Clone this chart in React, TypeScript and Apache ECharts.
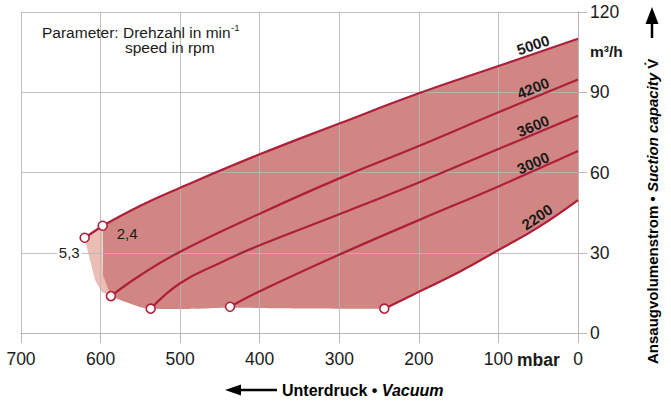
import { useEffect, useRef } from 'react';
import * as echarts from 'echarts';

const FONT = '"Liberation Sans", Arial, Helvetica, sans-serif';
const RED = '#AE1F3A';
const DARK_FILL = '#D18683';
const LIGHT_FILL = '#EBBDB5';
const TEXT = '#1a1a1a';
const GRID = 'rgba(182,182,182,0.85)';
const AXIS = '#b8b8b8';
const SMOOTH = 0.45;

// ---- data (x: Unterdruck / vacuum in mbar, y: suction capacity in m³/h) ----
const speeds = ['5000', '4200', '3600', '3000', '2200'];
const curve5000 = [[597.3, 40.1], [550, 47.6], [500, 54.3], [400, 66.8], [300, 78.3], [200, 89.6], [100, 99.8], [0, 110]];
const curve4200 = [[587, 13.8], [550, 21.6], [500, 30.4], [400, 44.6], [300, 57.8], [200, 69.9], [100, 82.5], [0, 94.8]];
const curve3600 = [[537, 9.1], [500, 18.6], [450, 26.2], [400, 32.8], [300, 44.4], [200, 56.3], [100, 68.8], [0, 81.2]];
const curve3000 = [[437.3, 9.8], [400, 15.6], [300, 29.3], [200, 42.2], [100, 54.8], [0, 68]];
const curve2200 = [[243.4, 9.1], [200, 15.4], [150, 22.7], [100, 31], [50, 39.5], [0, 49.7]];
const curves = [curve5000, curve4200, curve3600, curve3000, curve2200];

const limitSegment = [[620, 35.6], [597.3, 40.1]];
// lower boundary of the operating range (runs on under the 2200 curve and past the left edge)
const bottomEdge = [[200, 9.1], [243.4, 9.1], [340, 9.2], [437.3, 9.4], [490, 9.0], [537, 9.1], [565, 11.2], [587, 13.8], [597.3, 15.2], [612, 15.6]];
const darkLeftEdge = [[587, 13.8], [597, 21.7], [598, 30], [597.3, 40.1]];
const lightLeftEdge = [[587, 13.8], [598.6, 15.4], [607, 19.8], [611.1, 24.8], [615.4, 29.8], [620, 35.6]];

const markerPoints = [[620, 35.6], [597.3, 40.1], [587, 13.8], [537, 9.1], [437.3, 9.8], [243.4, 9.1]];
const markerTexts = ['5,3', '2,4', '', '', '', ''];

// label anchors along the curves (layout, data coordinates) and their slopes
const speedLabelAnchors = [[56.5, 107.7], [56.5, 91.6], [56.5, 77.4], [56.5, 63.6], [51.5, 43.4]];
const speedLabelAngles = [19, 22, 23, 24, 34];

const lightPolygon = [
  ...limitSegment,
  ...[...darkLeftEdge].reverse().slice(1),
  ...lightLeftEdge.slice(1, 5),
];

export default function App() {
  const ref = useRef<HTMLDivElement>(null);
  useEffect(() => {
    const chart = echarts.init(ref.current!, null, { renderer: 'svg' });

    const areaLayer = (data: number[][], fill: string) => ({
      type: 'line',
      data,
      smooth: SMOOTH,
      symbol: 'none',
      z: 1,
      silent: true,
      lineStyle: { width: 0, opacity: 0 },
      areaStyle: { color: fill, opacity: 1 },
    });

    const option: any = {
      animation: false,
      grid: { left: 21, right: 93, top: 12, bottom: 70 },
      xAxis: {
        type: 'value',
        min: 0,
        max: 700,
        interval: 100,
        inverse: true,
        z: 3,
        axisLine: { show: true, onZero: false, lineStyle: { color: AXIS, width: 1 } },
        axisTick: { show: true, length: 10, lineStyle: { color: AXIS } },
        axisLabel: { color: TEXT, fontSize: 17.5, fontFamily: FONT, margin: 17 },
        splitLine: { show: true, lineStyle: { color: GRID, width: 1 } },
      },
      yAxis: {
        type: 'value',
        position: 'right',
        min: 0,
        max: 120,
        interval: 30,
        z: 3,
        axisLine: { show: true, onZero: false, lineStyle: { color: AXIS, width: 1 } },
        axisTick: { show: true, length: 9, lineStyle: { color: AXIS } },
        axisLabel: { color: TEXT, fontSize: 17.5, fontFamily: FONT, margin: 12 },
        splitLine: { show: true, lineStyle: { color: GRID, width: 1 } },
      },
      series: [
        // filled operating range: area under the 5000 curve, cleared below 2200 and the bottom edge
        areaLayer(curve5000, DARK_FILL),
        areaLayer(curve2200, '#ffffff'),
        areaLayer(bottomEdge, '#ffffff'),
        {
          type: 'custom',
          coordinateSystem: 'cartesian2d',
          z: 1,
          silent: true,
          data: [[0, 0]],
          renderItem: (_p: any, api: any) => ({
            type: 'polygon',
            shape: { points: lightPolygon.map((p) => api.coord(p)) },
            style: { fill: LIGHT_FILL, stroke: 'none' },
          }),
        },
        {
          type: 'line',
          data: limitSegment,
          symbol: 'none',
          z: 5,
          silent: true,
          lineStyle: { color: RED, width: 2.2 },
        },
        ...curves.map((c) => ({
          type: 'line',
          data: c,
          smooth: SMOOTH,
          symbol: 'none',
          z: 5,
          silent: true,
          lineStyle: { color: RED, width: 2.2 },
        })),
        {
          type: 'scatter',
          z: 6,
          silent: true,
          symbolSize: 9,
          itemStyle: { color: '#ffffff', borderColor: RED, borderWidth: 1.6, opacity: 1 },
          data: markerPoints.map((p, i) => ({
            value: p,
            label:
              i === 0
                ? {
                    show: true,
                    formatter: markerTexts[i],
                    position: 'inside',
                    align: 'right',
                    verticalAlign: 'middle',
                    offset: [-3, 15],
                    color: TEXT,
                    fontSize: 15,
                    fontFamily: FONT,
                    backgroundColor: '#ffffff',
                    padding: [0, 2],
                  }
                : i === 1
                ? {
                    show: true,
                    formatter: markerTexts[i],
                    position: 'inside',
                    align: 'left',
                    verticalAlign: 'middle',
                    offset: [14, 7.5],
                    color: TEXT,
                    fontSize: 15,
                    fontFamily: FONT,
                  }
                : { show: false },
          })),
        },
        {
          type: 'custom',
          coordinateSystem: 'cartesian2d',
          z: 7,
          silent: true,
          data: speedLabelAnchors,
          renderItem: (params: any, api: any) => {
            const p = api.coord([api.value(0), api.value(1)]);
            return {
              type: 'text',
              x: p[0],
              y: p[1],
              rotation: (speedLabelAngles[params.dataIndex] * Math.PI) / 180,
              style: {
                text: speeds[params.dataIndex],
                x: 0,
                y: 0,
                align: 'center',
                verticalAlign: 'middle',
                fontSize: 15,
                fontWeight: 'bold',
                fontFamily: FONT,
                fill: TEXT,
              },
            };
          },
        },
      ],
      graphic: [
        {
          type: 'text',
          x: 42,
          y: 32,
          z: 10,
          style: { text: 'Parameter: Drehzahl in min', fontSize: 15.5, fontFamily: FONT, fill: TEXT, verticalAlign: 'middle' },
        },
        {
          type: 'text',
          x: 231,
          y: 27,
          z: 10,
          style: { text: '-1', fontSize: 9.5, fontFamily: FONT, fill: TEXT, verticalAlign: 'middle' },
        },
        {
          type: 'text',
          x: 125,
          y: 47.5,
          z: 10,
          style: { text: 'speed in rpm', fontSize: 15.5, fontFamily: FONT, fill: TEXT, verticalAlign: 'middle' },
        },
        {
          type: 'text',
          x: 590,
          y: 51,
          z: 10,
          style: { text: 'm³/h', fontSize: 15.5, fontWeight: 'bold', fontFamily: FONT, fill: TEXT, verticalAlign: 'middle' },
        },
        {
          type: 'text',
          x: 517,
          y: 360,
          z: 10,
          style: { text: 'mbar', fontSize: 17.5, fontWeight: 'bold', fontFamily: FONT, fill: TEXT, verticalAlign: 'middle' },
        },
        // bottom title
        {
          type: 'line',
          z: 10,
          shape: { x1: 238, y1: 390, x2: 277, y2: 390 },
          style: { stroke: '#000', lineWidth: 2.5 },
        },
        {
          type: 'polygon',
          z: 10,
          shape: { points: [[225, 390], [241, 384.5], [241, 395.5]] },
          style: { fill: '#000' },
        },
        {
          type: 'text',
          x: 282,
          y: 390,
          z: 10,
          style: {
            text: '{b|Unterdruck • }{i|Vacuum}',
            verticalAlign: 'middle',
            rich: {
              b: { fontSize: 16, fontWeight: 'bold', fontFamily: FONT, fill: '#000', color: '#000' },
              i: { fontSize: 16, fontWeight: 'bold', fontStyle: 'italic', fontFamily: FONT, fill: '#000', color: '#000' },
            },
          },
        },
        // right title
        {
          type: 'text',
          x: 652,
          y: 364,
          z: 10,
          rotation: Math.PI / 2,
          style: {
            text: '{b|Ansaugvolumenstrom • }{i|Suction capacity }{b|V\u0307}',
            verticalAlign: 'middle',
            align: 'left',
            rich: {
              b: { fontSize: 15, fontWeight: 'bold', fontFamily: FONT, fill: '#000', color: '#000' },
              i: { fontSize: 15, fontWeight: 'bold', fontStyle: 'italic', fontFamily: FONT, fill: '#000', color: '#000' },
            },
          },
        },
        {
          type: 'line',
          z: 10,
          shape: { x1: 652, y1: 38, x2: 652, y2: 20 },
          style: { stroke: '#000', lineWidth: 2.5 },
        },
        {
          type: 'polygon',
          z: 10,
          shape: { points: [[652, 7], [645.5, 24], [658.5, 24]] },
          style: { fill: '#000' },
        },
      ],
    };

    chart.setOption(option);
    return () => chart.dispose();
  }, []);

  return (
    <div
      ref={ref}
      style={{ position: 'absolute', left: 0, top: 0, width: 671, height: 403, background: '#fff' }}
    />
  );
}
